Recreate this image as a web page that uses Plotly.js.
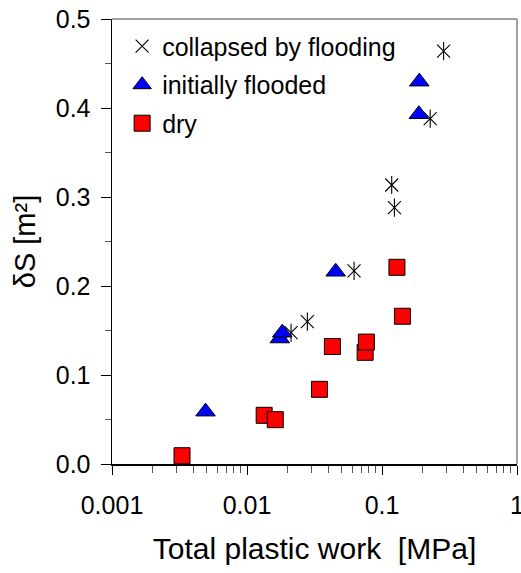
<!DOCTYPE html>
<html><head><meta charset="utf-8">
<script src="https://cdn.plot.ly/plotly-3.0.1.min.js"></script>
<style>html,body{margin:0;padding:0;background:#fff}</style>
</head><body><div id="chart" style="width:521px;height:573px"></div>
<script>
const collapsedX = [0.0212, 0.028, 0.0621, 0.118, 0.1236, 0.2275, 0.286];
const collapsedY = [0.1475, 0.160, 0.217, 0.3135, 0.288, 0.388, 0.464];
const floodedX = [0.00493, 0.0175, 0.01825, 0.0454, 0.1875, 0.189];
const floodedY = [0.0588, 0.141, 0.1475, 0.216, 0.393, 0.4296];
const dryX = [0.0033, 0.0134, 0.0162, 0.0344, 0.0429, 0.075, 0.0766, 0.1417, 0.129];
const dryY = [0.0093, 0.0547, 0.0498, 0.0839, 0.132, 0.1255, 0.137, 0.166, 0.221];
const seriesNames = ['collapsed by flooding', 'initially flooded', 'dry'];
const xTickVals = [0.001, 0.01, 0.1, 1];
const xTickText = ['0.001', '0.01', '0.1', '1'];

const minorX = [];
for (let e = -3; e < 0; e++) for (let m = 2; m <= 9; m++) minorX.push(m * Math.pow(10, e));

const FONT = 'Arial, "Liberation Sans", sans-serif';

const traces = [
  {x: collapsedX, y: collapsedY, mode: 'markers', type: 'scatter', name: seriesNames[0],
   legendgroup: 'a',
   marker: {symbol: 'x-thin-open', size: 13, color: '#000', line: {color: '#000', width: 1.1}}},
  {x: collapsedX, y: collapsedY, mode: 'markers', type: 'scatter', name: seriesNames[0],
   legendgroup: 'a', showlegend: false,
   marker: {symbol: 'line-ns-open', size: 13, color: '#000', line: {color: '#000', width: 1.1}}},
  {x: floodedX, y: floodedY, mode: 'markers', type: 'scatter', name: seriesNames[1],
   legendgroup: 'b',
   marker: {symbol: 'triangle-up', size: 17, color: '#0000ff', line: {color: '#000', width: 1}}},
  {x: dryX, y: dryY, mode: 'markers', type: 'scatter', name: seriesNames[2],
   legendgroup: 'c',
   marker: {symbol: 'square', size: 16, color: '#ff0000', line: {color: '#000', width: 1}}}
];

const layout = {
  width: 521, height: 573,
  margin: {l: 112, r: 4, t: 19, b: 109},
  paper_bgcolor: '#fff', plot_bgcolor: '#fff',
  font: {family: FONT, color: '#000', size: 25},
  showlegend: true,
  legend: {x: 0.025, y: 0.99, xanchor: 'left', yanchor: 'top', bgcolor: 'rgba(0,0,0,0)',
           font: {family: FONT, size: 25, color: '#000'}, traceorder: 'grouped', tracegroupgap: 3},
  xaxis: {
    type: 'log', range: [-3, 0], tickmode: 'array', tickvals: xTickVals, ticktext: xTickText,
    ticks: 'outside', ticklen: 9, tickwidth: 1, tickcolor: '#000',
    showline: true, linecolor: '#000', linewidth: 1.5, showgrid: false, zeroline: false,
    tickfont: {family: FONT, size: 25}, ticklabelstandoff: 9, ticklabeloverflow: 'allow',
    minor: {tickmode: 'array', tickvals: minorX, ticks: 'outside', ticklen: 7, tickwidth: 1, tickcolor: '#555', showgrid: false},
    title: {text: 'Total plastic work  [MPa]', font: {family: FONT, size: 30}, standoff: 20},
    automargin: false
  },
  yaxis: {
    range: [0, 0.5], dtick: 0.1, tick0: 0, tickformat: '.1f',
    ticks: 'outside', ticklen: 10, tickwidth: 1, tickcolor: '#000',
    showline: true, linecolor: '#000', linewidth: 1.5, showgrid: false, zeroline: false,
    tickfont: {family: FONT, size: 25}, ticklabelstandoff: 5,
    minor: {dtick: 0.05, ticks: 'outside', ticklen: 6, tickwidth: 1, tickcolor: '#555', showgrid: false},
    title: {text: 'δS [m²]', font: {family: FONT, size: 29}, standoff: 11},
    automargin: false
  },
  shapes: [
    {type: 'line', xref: 'paper', yref: 'paper', x0: 0, x1: 1, y0: 1, y1: 1, line: {color: '#808080', width: 1.5}},
    {type: 'line', xref: 'paper', yref: 'paper', x0: 1, x1: 1, y0: 0, y1: 1, line: {color: '#808080', width: 1.5}}
  ]
};

Plotly.newPlot('chart', traces, layout, {displayModeBar: false, staticPlot: true});
</script>
</body></html>
